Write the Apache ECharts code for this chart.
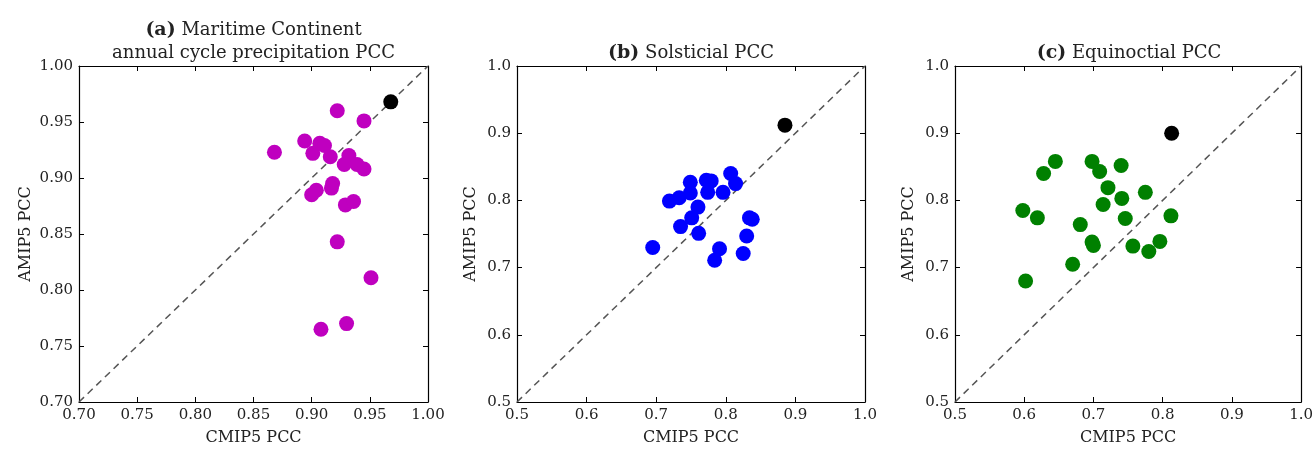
<!DOCTYPE html>
<html>
<head>
<meta charset="utf-8">
<script src="https://cdn.jsdelivr.net/npm/echarts@6/dist/echarts.min.js"></script>
<style>html,body{margin:0;padding:0;background:#fff}#c{width:1316px;height:451px}</style>
</head>
<body>
<div id="c"></div>
<script>
// Panel (a): Maritime Continent annual cycle precipitation PCC
const aModels = [
  [0.868,0.923],[0.894,0.933],[0.901,0.922],[0.907,0.931],[0.911,0.929],[0.916,0.919],
  [0.922,0.960],[0.945,0.951],[0.932,0.920],[0.928,0.912],[0.939,0.912],[0.945,0.908],
  [0.918,0.895],[0.917,0.891],[0.904,0.889],[0.900,0.885],[0.929,0.876],[0.936,0.879],
  [0.922,0.843],[0.951,0.811],[0.908,0.765],[0.930,0.770]
];
const aMean = [[0.968,0.968]];
// Panel (b): Solsticial PCC
const bModels = [
  [0.719,0.799],[0.733,0.804],[0.749,0.811],[0.749,0.827],[0.772,0.830],[0.779,0.829],
  [0.807,0.840],[0.814,0.825],[0.774,0.812],[0.796,0.812],[0.760,0.790],[0.751,0.774],
  [0.735,0.761],[0.761,0.751],[0.695,0.730],[0.791,0.728],[0.784,0.711],[0.834,0.774],
  [0.838,0.772],[0.830,0.747],[0.825,0.721]
];
const bMean = [[0.885,0.912]];
// Panel (c): Equinoctial PCC
const cModels = [
  [0.598,0.785],[0.619,0.774],[0.602,0.680],[0.628,0.840],[0.645,0.858],[0.698,0.858],
  [0.709,0.843],[0.740,0.852],[0.721,0.819],[0.775,0.812],[0.741,0.803],[0.714,0.794],
  [0.746,0.773],[0.681,0.764],[0.812,0.777],[0.698,0.738],[0.700,0.733],[0.670,0.705],
  [0.757,0.732],[0.780,0.724],[0.796,0.739]
];
const cMean = [[0.813,0.900]];

const ranges = [[0.70,1.00,0.05,2],[0.5,1.0,0.1,1],[0.5,1.0,0.1,1]];
const colors = ['#bf00bf','#0000ff','#008000'];
const titles = ['{b|(a)} Maritime Continent\nannual cycle precipitation PCC','{b|(b)} Solsticial PCC','{b|(c)} Equinoctial PCC'];
const xName = 'CMIP5 PCC', yName = 'AMIP5 PCC';
const modelSets = [aModels,bModels,cModels];
const meanSets = [aMean,bMean,cMean];

const FONT = 'DejaVu Serif';
const grids = [
  {left:79, top:66, width:349, height:341},
  {left:517, top:66, width:348, height:341},
  {left:955, top:66, width:348, height:341}
];
const yNameGap = [45,38,38];
const titleTops = [19,42,42];

const xAxis = [], yAxis = [], series = [], title = [];
for (let i=0;i<3;i++){
  const [mn,mx,iv,dec] = ranges[i];
  const base = {
    min:mn, max:mx, interval:iv, scale:true,
    axisLine:{show:true,onZero:false,lineStyle:{color:'#000',width:1.2}},
    axisTick:{show:true,inside:true,length:5,lineStyle:{color:'#000',width:1}},
    splitLine:{show:false}
  };
  xAxis.push(Object.assign({}, base, {
    type:'value', gridIndex:i, position:'bottom',
    name:xName, nameLocation:'middle', nameGap:28,
    nameTextStyle:{fontFamily:FONT,fontSize:16,color:'#222'},
    axisLabel:{show:true,margin:6,fontFamily:FONT,fontSize:15,color:'#222',
      showMinLabel:true,showMaxLabel:true,formatter:v=>v.toFixed(dec)}
  }));
  yAxis.push(Object.assign({}, base, {
    type:'value', gridIndex:i, position:'left',
    name:yName, nameLocation:'middle', nameGap:yNameGap[i], nameRotate:90,
    nameTextStyle:{fontFamily:FONT,fontSize:16,color:'#222'},
    axisLabel:{show:true,margin:6,fontFamily:FONT,fontSize:15,color:'#222',
      showMinLabel:true,showMaxLabel:true,formatter:v=>v.toFixed(dec)}
  }));
  title.push({
    text:titles[i], left:grids[i].left+grids[i].width/2, top:titleTops[i], textAlign:'center', padding:0,
    textStyle:{fontFamily:FONT,fontSize:18,fontWeight:'normal',color:'#222',lineHeight:23,
      rich:{b:{fontFamily:FONT,fontSize:19,fontWeight:'bold',color:'#222',lineHeight:23}}}
  });
}
for (let i=0;i<3;i++){
  const [mn,mx,iv,dec] = ranges[i];
  const base = {
    min:mn, max:mx, interval:iv,
    axisLine:{show:true,onZero:false,lineStyle:{color:'#000',width:1.2}},
    axisTick:{show:true,inside:true,length:5,lineStyle:{color:'#000',width:1}},
    axisLabel:{show:false}, splitLine:{show:false}
  };
  xAxis.push(Object.assign({}, base, {type:'value', gridIndex:i, position:'top'}));
  yAxis.push(Object.assign({}, base, {type:'value', gridIndex:i, position:'right'}));
}
for (let i=0;i<3;i++){
  const [mn,mx] = ranges[i];
  series.push({
    type:'line', xAxisIndex:i, yAxisIndex:i, data:[[mn,mn],[mx,mx]],
    symbol:'none', silent:true, z:1,
    lineStyle:{color:'#555',width:1.5,type:[7,5]}
  });
  series.push({
    type:'scatter', xAxisIndex:i, yAxisIndex:i, data:modelSets[i],
    symbol:'circle', symbolSize:15, z:3,
    itemStyle:{color:colors[i],opacity:1}
  });
  series.push({
    type:'scatter', xAxisIndex:i, yAxisIndex:i, data:meanSets[i],
    symbol:'circle', symbolSize:15, z:4,
    itemStyle:{color:'#000',opacity:1}
  });
}

const chart = echarts.init(document.getElementById('c'), null, {renderer:'canvas'});
chart.setOption({
  animation:false,
  backgroundColor:'#fff',
  title:title,
  grid:grids.map(g=>Object.assign({containLabel:false},g)),
  xAxis:xAxis, yAxis:yAxis, series:series
});
</script>
</body>
</html>
